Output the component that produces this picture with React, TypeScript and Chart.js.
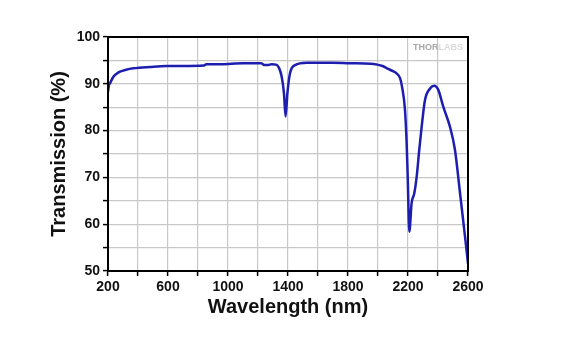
import React, { useEffect, useRef } from "react";
import { Chart, registerables } from "chart.js";

Chart.register(...registerables);

const wavelengths = [
  200, 205, 215, 236, 260, 280, 320, 370, 480, 590, 700, 840, 855, 950, 1100,
  1220, 1245, 1265, 1290, 1320, 1340, 1358, 1373, 1384, 1396, 1413, 1447, 1524, 1700,
  1810, 1950, 1995, 2030, 2060, 2100, 2125, 2147, 2160, 2180, 2191, 2198, 2209,
  2224, 2242, 2258, 2275, 2291, 2313, 2347, 2375, 2402, 2435, 2480, 2513, 2547,
  2580, 2600,
];
const transmission = [
  88.3, 89.5, 90.2, 91.5, 92.2, 92.6, 93.0, 93.3, 93.6, 93.8, 93.8, 93.9, 94.2,
  94.2, 94.4, 94.4, 94.0, 94.0, 94.2, 94.1, 93.4, 91.5, 88.0, 83.0, 88.0, 92.2, 94.0,
  94.5, 94.5, 94.4, 94.3, 94.1, 93.8, 93.3, 92.7, 92.2, 91.2, 89.4, 84.4, 77.3,
  70.2, 58.4, 64.5, 66.6, 70.2, 75.9, 80.8, 86.5, 89.0, 89.6, 88.7, 85.1, 80.8,
  75.9, 66.6, 57.4, 51.6,
];
const xLabeledTicks = [200, 600, 1000, 1400, 1800, 2200, 2600];
const yLabeledTicks = [50, 60, 70, 80, 90, 100];

const FONT = "'Liberation Sans', Arial, sans-serif";

const framePlugin = {
  id: "frame",
  afterDraw(chart: any) {
    const { ctx, chartArea } = chart;
    ctx.save();
    ctx.strokeStyle = "#000";
    ctx.lineWidth = 2;
    ctx.strokeRect(chartArea.left, chartArea.top, chartArea.right - chartArea.left, chartArea.bottom - chartArea.top);
    ctx.font = `bold 9px ${FONT}`;
    ctx.textBaseline = "middle";
    ctx.textAlign = "left";
    const tx = chartArea.right - 55;
    const ty = chartArea.top + 11;
    ctx.fillStyle = "#a8a8a8";
    ctx.fillText("THOR", tx, ty);
    const w = ctx.measureText("THOR").width;
    ctx.fillStyle = "#dadada";
    ctx.fillText("LABS", tx + w, ty);
    ctx.restore();
  },
};

export default function App() {
  const ref = useRef<HTMLCanvasElement>(null);
  useEffect(() => {
    if (!ref.current) return;
    const data = wavelengths.map((x, i) => ({ x, y: transmission[i] }));
    const chart = new Chart(ref.current, {
      type: "line",
      data: {
        datasets: [
          {
            data,
            borderColor: "#1d1db0",
            borderWidth: 2.5,
            pointRadius: 0,
            cubicInterpolationMode: "monotone",
            fill: false,
          },
        ],
      },
      plugins: [framePlugin],
      options: {
        animation: false,
        responsive: false,
        maintainAspectRatio: false,
        layout: { padding: { left: 0, top: 37, right: 102, bottom: 0 } },
        plugins: { legend: { display: false }, tooltip: { enabled: false } },
        scales: {
          x: {
            type: "linear",
            min: 200,
            max: 2600,
            afterFit(scale: any) {
              scale.height = 85;
            },
            ticks: {
              stepSize: 200,
              autoSkip: false,
              maxRotation: 0,
              padding: 3,
              color: "#111",
              font: { family: FONT, size: 14, weight: "bold" },
              callback: (v: any) => (xLabeledTicks.includes(Number(v)) ? String(v) : ""),
            },
            grid: { color: "#c8c8c8", lineWidth: 1.2, tickColor: "#000", tickLength: 5, tickWidth: 1.5 },
            border: { color: "#000", width: 2 },
            title: {
              display: true,
              text: "Wavelength (nm)",
              color: "#111",
              font: { family: FONT, size: 20, weight: "bold" },
              padding: { top: 0, bottom: 37 },
            },
          },
          y: {
            min: 50,
            max: 100,
            afterFit(scale: any) {
              scale.width = 108;
            },
            ticks: {
              stepSize: 5,
              autoSkip: false,
              padding: 3,
              color: "#111",
              font: { family: FONT, size: 14, weight: "bold" },
              callback: (v: any) => (yLabeledTicks.includes(Number(v)) ? String(v) : ""),
            },
            grid: { color: "#c8c8c8", lineWidth: 1.2, tickColor: "#000", tickLength: 5, tickWidth: 1.5 },
            border: { color: "#000", width: 2 },
            title: {
              display: true,
              text: "Transmission (%)",
              color: "#111",
              font: { family: FONT, size: 20, weight: "bold" },
              padding: { top: 47, bottom: 0 },
            },
          },
        },
      },
    } as any);
    return () => chart.destroy();
  }, []);
  return (
    <div style={{ position: "absolute", left: 0, top: 0, width: 570, height: 356, background: "#fff" }}>
      <canvas ref={ref} width={570} height={356} style={{ width: 570, height: 356 }} />
    </div>
  );
}
